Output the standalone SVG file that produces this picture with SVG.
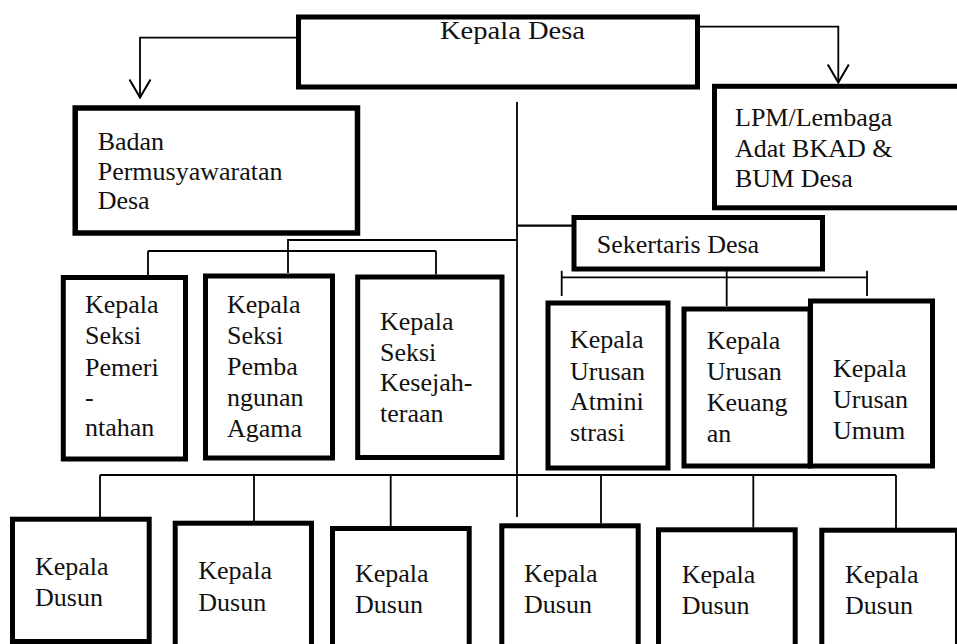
<svg xmlns="http://www.w3.org/2000/svg" width="957" height="644" viewBox="0 0 957 644">
<style>
.box{fill:#fff;stroke:#000;stroke-width:5}
.t{font-family:"Liberation Serif","Times New Roman",serif;font-size:26px;fill:#111}
.c{fill:none;stroke:#000;stroke-width:1.8}
</style>
<defs>
<marker id="arr" viewBox="-20 -12 22 24" refX="0" refY="0" markerWidth="22" markerHeight="24" markerUnits="userSpaceOnUse" orient="auto">
<path d="M-18,-10.5 L0,0 L-18,10.5" fill="none" stroke="#000" stroke-width="2"/>
</marker>
</defs>
<rect width="957" height="644" fill="#fff"/>
<g id="connectors">
<path class="c" d="M298.5,37.7 H140 V97.5" marker-end="url(#arr)"/>
<path class="c" d="M697.5,26.7 H838.3 V82.5" marker-end="url(#arr)"/>
<path class="c" d="M517,102 V517"/>
<path class="c" d="M517,240 H288 V273"/>
<path class="c" d="M148,251 H436 M148,251 V275 M436,251 V274.5"/>
<path class="c" d="M517,225.7 H572" style="stroke-width:2.2"/>
<path class="c" d="M561.7,277.3 H867 M561.7,270.7 V296 M867,270.7 V296 M726.7,269 V306"/>
<path class="c" d="M100,475 H896 M100,475 V517 M254,475 V521 M390.7,475 V526 M601,475 V523.5 M753.3,475 V527.5 M896,475 V528"/>
</g>
<g id="kepala-desa">
<rect class="box" x="298.5" y="17" width="399" height="70"/>
<text class="t" x="440" y="38.5" font-size="24" textLength="145" lengthAdjust="spacingAndGlyphs">Kepala Desa</text>
</g>
<g id="bpd">
<rect class="box" x="75.2" y="108" width="282.3" height="125" style="stroke-width:5.5"/>
<text class="t" x="97.7"><tspan x="97.7" y="150">Badan</tspan><tspan x="97.7" y="179.5">Permusyawaratan</tspan><tspan x="97.7" y="209">Desa</tspan></text>
</g>
<g id="lpm">
<rect class="box" x="714.5" y="86.3" width="260" height="121.5"/>
<text class="t" x="735"><tspan x="735" y="126">LPM/Lembaga</tspan><tspan x="735" y="156.7">Adat BKAD &amp;</tspan><tspan x="735" y="187.3">BUM Desa</tspan></text>
</g>
<g id="sekertaris">
<rect class="box" x="574" y="217.5" width="248.5" height="51.5"/>
<text class="t" x="596.7" y="252.7">Sekertaris Desa</text>
</g>
<g id="seksi-pemerintahan">
<rect class="box" x="63.3" y="277.5" width="122.2" height="181.5"/>
<text class="t"><tspan x="85" y="313.3">Kepala</tspan><tspan x="85" y="344">Seksi</tspan><tspan x="85" y="375.5">Pemeri</tspan><tspan x="85" y="405.5">-</tspan><tspan x="85" y="436">ntahan</tspan></text>
</g>
<g id="seksi-pembangunan">
<rect class="box" x="205.5" y="276" width="127" height="182"/>
<text class="t"><tspan x="227" y="312.7">Kepala</tspan><tspan x="227" y="344">Seksi</tspan><tspan x="227" y="375">Pemba</tspan><tspan x="227" y="406">ngunan</tspan><tspan x="227" y="436.5">Agama</tspan></text>
</g>
<g id="seksi-kesejahteraan">
<rect class="box" x="357.7" y="277" width="144.3" height="180.5"/>
<text class="t"><tspan x="380" y="330">Kepala</tspan><tspan x="380" y="360.7">Seksi</tspan><tspan x="380" y="390.7">Kesejah-</tspan><tspan x="380" y="421.7">teraan</tspan></text>
</g>
<g id="urusan-atministrasi">
<rect class="box" x="548" y="303" width="120" height="165"/>
<text class="t"><tspan x="570" y="348">Kepala</tspan><tspan x="570" y="379.5">Urusan</tspan><tspan x="570" y="410">Atmini</tspan><tspan x="570" y="440.5">strasi</tspan></text>
</g>
<g id="urusan-keuangan">
<rect class="box" x="684" y="309" width="126" height="157"/>
<text class="t"><tspan x="706.7" y="349">Kepala</tspan><tspan x="706.7" y="380">Urusan</tspan><tspan x="706.7" y="410.5">Keuang</tspan><tspan x="706.7" y="441.5">an</tspan></text>
</g>
<g id="urusan-umum">
<rect class="box" x="810.5" y="301" width="122" height="165"/>
<text class="t"><tspan x="833" y="376.7">Kepala</tspan><tspan x="833" y="408">Urusan</tspan><tspan x="833" y="439">Umum</tspan></text>
</g>
<g id="dusun-1">
<rect class="box" x="12.5" y="519.2" width="136.7" height="122.3"/>
<text class="t"><tspan x="35" y="575">Kepala</tspan><tspan x="35" y="606">Dusun</tspan></text>
</g>
<g id="dusun-2">
<rect class="box" x="175.2" y="523.2" width="136.3" height="140"/>
<text class="t"><tspan x="198.3" y="579.3">Kepala</tspan><tspan x="198.3" y="610.7">Dusun</tspan></text>
</g>
<g id="dusun-3">
<rect class="box" x="332.5" y="528.5" width="136.7" height="140"/>
<text class="t"><tspan x="355" y="581.7">Kepala</tspan><tspan x="355" y="612.7">Dusun</tspan></text>
</g>
<g id="dusun-4">
<rect class="box" x="501.8" y="525.8" width="136.4" height="140"/>
<text class="t"><tspan x="524" y="581.7">Kepala</tspan><tspan x="524" y="612.7">Dusun</tspan></text>
</g>
<g id="dusun-5">
<rect class="box" x="658.5" y="529.8" width="136.7" height="140"/>
<text class="t"><tspan x="681.7" y="582.7">Kepala</tspan><tspan x="681.7" y="614">Dusun</tspan></text>
</g>
<g id="dusun-6">
<rect class="box" x="821.8" y="530.2" width="135.7" height="140"/>
<text class="t"><tspan x="845" y="582.7">Kepala</tspan><tspan x="845" y="614">Dusun</tspan></text>
</g>
</svg>
